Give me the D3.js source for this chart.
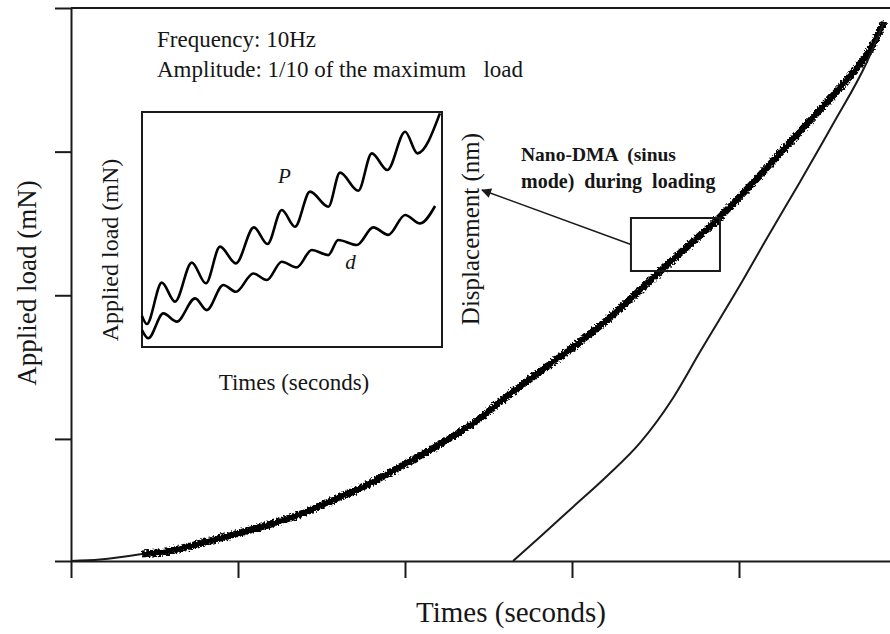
<!DOCTYPE html>
<html>
<head>
<meta charset="utf-8">
<script src="https://cdn.jsdelivr.net/npm/d3@7"></script>
<style>
  body { margin: 0; background: #fff; }
  svg { display: block; }
  text { font-family: "Liberation Serif", "Times New Roman", serif; fill: #161616; }
</style>
</head>
<body>
<svg id="chart" width="890" height="634"></svg>
<script>
// loading curve (time in tick units, load in tick units)
const loadTime  = [0, 0.174, 0.425, 0.573, 0.772, 1.002, 1.212, 1.411, 1.571, 1.771, 1.970, 2.170, 2.409, 2.609, 2.808, 3.008, 3.210, 3.407, 3.647, 3.868, 4.066, 4.263, 4.467, 4.665, 4.784, 4.868];
const loadForce = [0, 0.010, 0.049, 0.065, 0.123, 0.193, 0.262, 0.343, 0.425, 0.529, 0.655, 0.787, 0.959, 1.144, 1.318, 1.492, 1.678, 1.887, 2.144, 2.374, 2.611, 2.861, 3.119, 3.377, 3.558, 3.752];
const dmaStart = 0.425;   // sinus mode switched on from here

const unloadTime  = [2.647, 2.808, 3.006, 3.210, 3.407, 3.605, 3.766, 4.024, 4.168, 4.365, 4.563, 4.766, 4.868];
const unloadForce = [0, 0.167, 0.376, 0.592, 0.822, 1.135, 1.455, 1.956, 2.249, 2.639, 3.042, 3.474, 3.752];

const xTicks = [0, 1, 2, 3, 4];
const yTicks = [0, 0.85, 1.85, 2.85, 3.85];

// inset: P and d oscillations (0..100 box units)
const pTime  = [0, 1.6, 6.6, 11, 16.6, 21.3, 26, 31.3, 37.3, 41.8, 46.6, 51, 56, 62.1, 66, 72.1, 76.6, 81.8, 87.7, 91.8, 99.3];
const pValue = [13.2, 9.8, 27.4, 19.3, 35.9, 27.1, 42.7, 35.6, 50.9, 43.8, 58.3, 51.2, 66.1, 59.7, 74.2, 66.5, 82.4, 75.3, 91.6, 82.4, 99.4];
const dTime  = [0, 2.1, 7.1, 11.6, 17.7, 21.6, 27.1, 31.3, 37.1, 41.6, 46.6, 51.6, 56.6, 62.1, 65.4, 71.6, 77.1, 82.1, 87.7, 92.7, 97.7];
const dValue = [7.2, 3.7, 14.3, 10.8, 20.7, 15.7, 26.4, 23.5, 31.3, 28.5, 36.3, 33.9, 41.3, 39.1, 45.5, 43.4, 50.9, 47.7, 56.2, 52.6, 60];

const svg = d3.select("#chart");
const ink = "#1a1a1a";

const x = d3.scaleLinear().domain([0, 5]).range([71, 906]);
const y = d3.scaleLinear().domain([0, 3.85]).range([561, 8]);

// rough edge for the nano-DMA part of the curve
const defs = svg.append("defs");
const filt = defs.append("filter").attr("id", "rough")
    .attr("filterUnits", "userSpaceOnUse")
    .attr("x", 0).attr("y", 0).attr("width", 890).attr("height", 634);
filt.append("feTurbulence").attr("type", "fractalNoise")
    .attr("baseFrequency", 0.55).attr("numOctaves", 1).attr("seed", 7).attr("result", "n");
filt.append("feDisplacementMap").attr("in", "SourceGraphic").attr("in2", "n")
    .attr("scale", 7).attr("xChannelSelector", "R").attr("yChannelSelector", "G");

defs.append("marker").attr("id", "head")
    .attr("viewBox", "0 0 10 10").attr("refX", 9).attr("refY", 5)
    .attr("markerWidth", 14).attr("markerHeight", 10).attr("markerUnits", "userSpaceOnUse")
    .attr("orient", "auto")
    .append("path").attr("d", "M0,0 L10,5 L0,10 z").attr("fill", ink);

// axes
svg.append("g").attr("transform", `translate(${x(0)},0)`)
    .call(d3.axisLeft(y).tickValues(yTicks).tickSize(16).tickSizeOuter(0).tickFormat(""))
    .call(g => g.selectAll("path,line").attr("stroke", ink).attr("stroke-width", 2));

svg.append("g").attr("transform", `translate(0,${y(0)})`)
    .call(d3.axisBottom(x).tickValues(xTicks).tickSize(17).tickSizeOuter(0).tickFormat(""))
    .call(g => g.selectAll("path,line").attr("stroke", ink).attr("stroke-width", 2));

svg.append("line")
    .attr("x1", x(0)).attr("x2", x(5)).attr("y1", y(3.85)).attr("y2", y(3.85))
    .attr("stroke", ink).attr("stroke-width", 2);

// curves
const loadPts = loadTime.map((t, i) => [t, loadForce[i]]);
const unloadPts = unloadTime.map((t, i) => [t, unloadForce[i]]);
const dmaPts = loadPts.filter(d => d[0] >= dmaStart);
const line = d3.line().x(d => x(d[0])).y(d => y(d[1])).curve(d3.curveMonotoneX);

svg.append("path").attr("d", line(loadPts.filter(d => d[0] <= dmaStart)))
    .attr("fill", "none").attr("stroke", ink).attr("stroke-width", 2);

svg.append("path").attr("d", line(dmaPts))
    .attr("fill", "none").attr("stroke", "#000").attr("stroke-width", 7)
    .attr("filter", "url(#rough)");
svg.append("path").attr("d", line(dmaPts))
    .attr("fill", "none").attr("stroke", "#000").attr("stroke-width", 3.5);

svg.append("path").attr("d", line(unloadPts))
    .attr("fill", "none").attr("stroke", ink).attr("stroke-width", 2);

// zoom box + arrow
const boxX0 = 3.353, boxX1 = 3.886, boxY0 = 2.388, boxY1 = 2.019;
svg.append("rect")
    .attr("x", x(boxX0)).attr("y", y(boxY0))
    .attr("width", x(boxX1) - x(boxX0)).attr("height", y(boxY1) - y(boxY0))
    .attr("fill", "none").attr("stroke", ink).attr("stroke-width", 2);

svg.append("line")
    .attr("x1", x(boxX0)).attr("y1", (y(boxY0) + y(boxY1)) / 2)
    .attr("x2", 482).attr("y2", 190)
    .attr("stroke", ink).attr("stroke-width", 1.5)
    .attr("marker-end", "url(#head)");

svg.append("text").attr("x", 521).attr("y", 161)
    .attr("font-size", 19.5).attr("font-weight", "bold")
    .style("white-space", "pre").text("Nano-DMA  (sinus");
svg.append("text").attr("x", 521).attr("y", 188)
    .attr("font-size", 20).attr("font-weight", "bold")
    .style("white-space", "pre").text("mode)  during  loading");

// test conditions
svg.append("text").attr("x", 157).attr("y", 47).attr("font-size", 23)
    .text("Frequency: 10Hz");
svg.append("text").attr("x", 157).attr("y", 77).attr("font-size", 23)
    .style("white-space", "pre").text("Amplitude: 1/10 of the maximum   load");

// inset
const ix = d3.scaleLinear().domain([0, 100]).range([142, 442]);
const iy = d3.scaleLinear().domain([0, 100]).range([347, 112]);

svg.append("rect").attr("x", ix(0)).attr("y", iy(100))
    .attr("width", ix(100) - ix(0)).attr("height", iy(0) - iy(100))
    .attr("fill", "none").attr("stroke", ink).attr("stroke-width", 2);

const iline = d3.line().x(d => ix(d[0])).y(d => iy(d[1])).curve(d3.curveMonotoneX);
svg.append("path").attr("d", iline(pTime.map((t, i) => [t, pValue[i]])))
    .attr("fill", "none").attr("stroke", "#000").attr("stroke-width", 2.6);
svg.append("path").attr("d", iline(dTime.map((t, i) => [t, dValue[i]])))
    .attr("fill", "none").attr("stroke", "#000").attr("stroke-width", 2.6);

svg.append("text").attr("x", ix(47.5)).attr("y", iy(70)).attr("font-size", 21)
    .attr("font-style", "italic").attr("text-anchor", "middle").text("P");
svg.append("text").attr("x", ix(69.5)).attr("y", iy(33)).attr("font-size", 21)
    .attr("font-style", "italic").attr("text-anchor", "middle").text("d");

svg.append("text").attr("transform", "translate(118,250) rotate(-90)")
    .attr("text-anchor", "middle").attr("font-size", 24).text("Applied load (mN)");
svg.append("text").attr("transform", "translate(479,229) rotate(-90)")
    .attr("text-anchor", "middle").attr("font-size", 25).text("Displacement (nm)");
svg.append("text").attr("x", 294).attr("y", 390)
    .attr("text-anchor", "middle").attr("font-size", 23).text("Times (seconds)");

// main axis titles
svg.append("text").attr("transform", "translate(36,283) rotate(-90)")
    .attr("text-anchor", "middle").attr("font-size", 27).text("Applied load (mN)");
svg.append("text").attr("x", 511).attr("y", 622)
    .attr("text-anchor", "middle").attr("font-size", 29).text("Times (seconds)");
</script>
</body>
</html>
